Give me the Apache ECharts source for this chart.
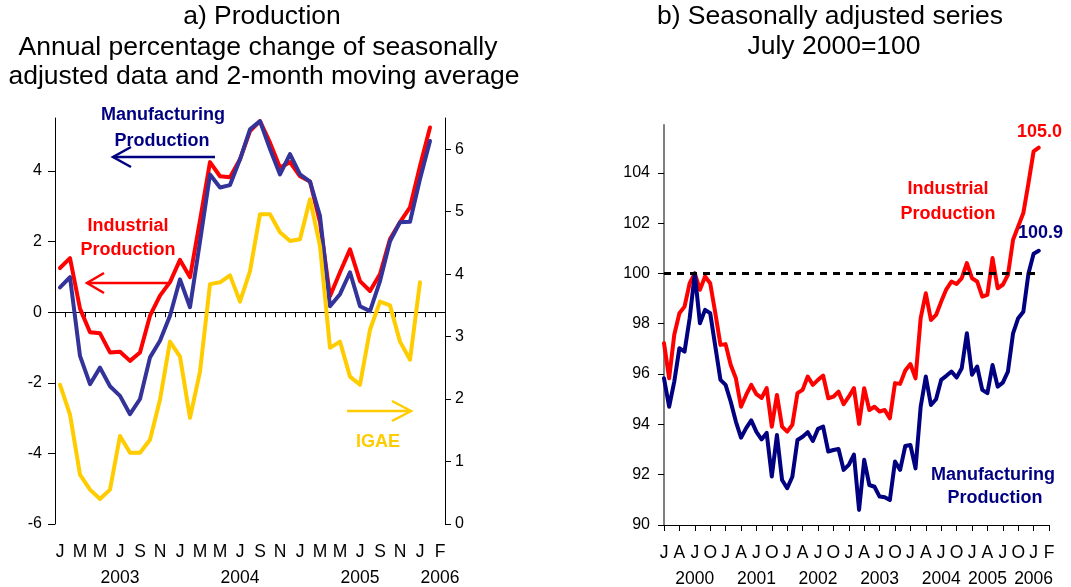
<!DOCTYPE html>
<html><head><meta charset="utf-8">
<script src="https://cdn.jsdelivr.net/npm/echarts@6/dist/echarts.min.js"></script>
<style>html,body{margin:0;padding:0;background:#fff;}#c{width:1071px;height:587px;}</style>
</head><body><div id="c"></div>
<script>
const FONT = '"Liberation Sans", Arial, Helvetica, sans-serif';
const monthNames = ['Jan','Feb','Mar','Apr','May','Jun','Jul','Aug','Sep','Oct','Nov','Dec'];

// ---------- Panel a) ----------
// categories Jan 2003 .. Mar 2006
const leftCategories = [];
for (let y = 2003; y <= 2006; y++) for (let m = 0; m < 12; m++) {
  if (y === 2006 && m > 2) break;
  leftCategories.push(monthNames[m] + ' ' + y);
}
const leftTickLabels = ['J','M','M','J','S','N','J','M','M','J','S','N','J','M','M','J','S','N','J','F'];
const leftYearLabels = ['2003','2004','2005','2006'];
const leftYearIdx = [6, 18, 30, 38];
const leftAxisTicks = [-6,-4,-2,0,2,4];
const rightAxisTicks = [0,1,2,3,4,5,6];

const industrialChange = [
  1.25,1.53,0.1,-0.57,-0.6,-1.14,-1.12,-1.38,-1.14,-0.1,0.47,0.85,
  1.48,0.99,2.6,4.25,3.85,3.82,4.33,5.13,5.41,4.8,4.1,4.25,
  3.85,3.7,2.55,0.45,1.13,1.78,0.88,0.6,1.08,2.07,2.55,2.97,
  4.14,5.23
];
const manufacturingChange = [
  0.7,0.99,-1.24,-2.04,-1.57,-2.1,-2.37,-2.89,-2.46,-1.28,-0.81,-0.1,
  0.93,0.14,2.0,3.9,3.53,3.6,4.33,5.18,5.41,4.62,3.9,4.48,
  3.9,3.7,2.72,0.17,0.51,1.13,0.17,0.03,0.88,2.01,2.55,2.56,
  3.77,4.85
];
const igaeChange = [
  2.23,1.75,0.79,0.55,0.4,0.55,1.41,1.14,1.14,1.35,1.99,2.92,
  2.68,1.7,2.44,3.84,3.87,3.98,3.56,4.05,4.96,4.96,4.67,4.53,
  4.56,5.2,4.45,2.82,2.92,2.36,2.23,3.11,3.56,3.5,2.92,2.63,
  3.87,null
];

// ---------- Panel b) ----------
// categories Jan 2000 .. Apr 2006
const rightCategories = [];
for (let y = 2000; y <= 2006; y++) for (let m = 0; m < 12; m++) {
  if (y === 2006 && m > 3) break;
  rightCategories.push(monthNames[m] + ' ' + y);
}
const rightTickLabels = ['J','A','J','O','J','A','J','O','J','A','J','O','J','A','J','O','J','A','J','O','J','A','J','O','J','F'];
const rightYearLabels = ['2000','2001','2002','2003','2004','2005','2006'];
const rightYearIdx = [6, 18, 30, 42, 54, 63, 72];
const indexTicks = [90,92,94,96,98,100,102,104];
const baseLevel = 100;

const industrialIndex = [
  97.23,95.83,97.56,98.42,98.68,99.61,100.0,99.35,99.88,99.61,98.42,97.16,
  97.19,96.36,95.83,94.7,95.17,95.57,95.2,95.05,95.44,93.91,95.17,93.91,
  93.71,93.98,95.24,95.37,95.9,95.57,95.77,95.94,95.04,95.1,95.3,94.8,
  95.1,95.44,94.02,95.44,94.57,94.7,94.51,94.57,94.24,95.64,95.61,96.14,
  96.4,95.83,98.22,99.21,98.15,98.35,98.88,99.37,99.68,99.58,99.81,100.41,
  99.81,99.68,99.08,99.15,100.61,99.41,99.55,99.94,101.34,101.87,102.4,103.59,
  104.85,105.0
];
const manufacturingIndex = [
  95.83,94.7,95.7,97.03,96.89,98.22,100.0,98.02,98.55,98.42,97.09,95.77,
  95.57,94.9,94.11,93.47,93.85,94.16,93.7,93.4,93.66,91.93,93.58,91.79,
  91.46,91.92,93.38,93.51,93.69,93.34,93.82,93.91,92.92,92.98,93.02,92.19,
  92.39,92.8,90.6,92.59,91.59,91.52,91.13,91.1,90.99,92.52,92.19,93.14,
  93.18,92.25,94.7,95.9,94.77,95.0,95.77,95.93,96.1,95.86,96.23,97.62,
  95.97,96.3,95.37,95.24,96.36,95.5,95.66,96.1,97.62,98.22,98.48,100.0,
  100.78,100.9
];

const RED = '#ff0000', BLUE_A = '#333399', NAVY = '#000080', YEL = '#ffcc00';

function leftLabel(v, i) {
  if (i % 2) return '';
  let s = leftTickLabels[i / 2] || '';
  const k = leftYearIdx.indexOf(i);
  if (k >= 0) s += '\n' + leftYearLabels[k];
  return s;
}
function rightLabel(v, i) {
  if (i % 3) return '';
  let s = rightTickLabels[i / 3] || '';
  const k = rightYearIdx.indexOf(i);
  if (k >= 0) s += '\n' + rightYearLabels[k];
  return s;
}

const chart = echarts.init(document.getElementById('c'), null, {renderer: 'canvas'});
const lbl = {color: '#000', fontSize: 16, fontFamily: FONT};
const xlbl = {color: '#000', fontSize: 17.5, fontFamily: FONT};
const blackLine = {lineStyle: {color: '#000', width: 1}};

function txt(text, x, y, color, size, weight, align) {
  return {type: 'text', x: x, y: y, silent: true, z: 100,
    style: {text: text, fill: color, font: (weight || 'normal') + ' ' + size + 'px ' + FONT,
      textAlign: align || 'center', textVerticalAlign: 'middle'}};
}
function arrow(x1, x2, y, color, head) {
  const dir = x2 > x1 ? -1 : 1;
  return [
    {type: 'line', silent: true, z: 100, shape: {x1: x1, y1: y, x2: x2, y2: y},
      style: {stroke: color, lineWidth: 2.5}},
    {type: 'polyline', silent: true, z: 100,
      shape: {points: [[x2 + dir * head, y - 10], [x2, y], [x2 + dir * head, y + 10]]},
      style: {stroke: color, lineWidth: 2.5, fill: null}}
  ];
}

const option = {
  animation: false,
  backgroundColor: '#fff',
  textStyle: {fontFamily: FONT},
  grid: [
    {left: 55, top: 118, width: 390, height: 406, containLabel: false, outerBoundsMode: 'none'},
    {left: 664, top: 125, width: 385, height: 400, containLabel: false, outerBoundsMode: 'none'}
  ],
  xAxis: [
    {type: 'category', gridIndex: 0, data: leftCategories, boundaryGap: true, position: 'bottom',
     axisLine: {show: true, onZero: true, onZeroAxisIndex: 0, lineStyle: {color: '#000', width: 1}},
     axisTick: {show: true, interval: 0, length: 5, lineStyle: {color: '#000'}},
     axisLabel: {show: false}, splitLine: {show: false}},
    {type: 'category', gridIndex: 0, data: leftCategories, boundaryGap: true, position: 'bottom',
     axisLine: {show: false, onZero: false}, axisTick: {show: false},
     axisLabel: Object.assign({interval: 0, margin: 15, lineHeight: 26, formatter: leftLabel}, xlbl),
     splitLine: {show: false}},
    {type: 'category', gridIndex: 1, data: rightCategories, boundaryGap: false, position: 'bottom',
     axisLine: {show: true, onZero: false, lineStyle: {color: '#000', width: 1}},
     axisTick: {show: true, interval: 2, length: 6, lineStyle: {color: '#000'}},
     axisLabel: Object.assign({interval: 0, margin: 15, lineHeight: 26, formatter: rightLabel}, xlbl),
     splitLine: {show: false}}
  ],
  yAxis: [
    {type: 'value', gridIndex: 0, min: -6, max: 5.5, position: 'left',
     axisLine: Object.assign({show: true}, blackLine), splitLine: {show: false},
     axisTick: {show: true, length: 7, customValues: leftAxisTicks, lineStyle: {color: '#000'}},
     axisLabel: Object.assign({customValues: leftAxisTicks, margin: 13}, lbl)},
    {type: 'value', gridIndex: 0, min: 0, max: 6.5, position: 'right',
     axisLine: Object.assign({show: true}, blackLine), splitLine: {show: false},
     axisTick: {show: true, length: 6, customValues: rightAxisTicks, lineStyle: {color: '#000'}},
     axisLabel: Object.assign({customValues: rightAxisTicks, margin: 10}, lbl)},
    {type: 'value', gridIndex: 1, min: 90, max: 105.9, position: 'left',
     axisLine: {show: true, onZero: false, lineStyle: {color: '#808080', width: 2}}, splitLine: {show: false},
     axisTick: {show: true, length: 6, customValues: indexTicks, lineStyle: {color: '#000'}},
     axisLabel: Object.assign({customValues: indexTicks, margin: 14}, lbl)}
  ],
  series: [
    {name: 'Industrial Production', type: 'line', xAxisIndex: 0, yAxisIndex: 0, data: industrialChange,
     showSymbol: false, lineStyle: {color: RED, width: 4, join: 'round', cap: 'round'}, itemStyle: {color: RED}},
    {name: 'Manufacturing Production', type: 'line', xAxisIndex: 0, yAxisIndex: 0, data: manufacturingChange,
     showSymbol: false, lineStyle: {color: BLUE_A, width: 4, join: 'round', cap: 'round'}, itemStyle: {color: BLUE_A}},
    {name: 'IGAE', type: 'line', xAxisIndex: 0, yAxisIndex: 1, data: igaeChange,
     showSymbol: false, lineStyle: {color: YEL, width: 4, join: 'round', cap: 'round'}, itemStyle: {color: YEL}},
    {name: 'Industrial Production (index)', type: 'line', xAxisIndex: 2, yAxisIndex: 2, data: industrialIndex,
     showSymbol: false, lineStyle: {color: RED, width: 4, join: 'round', cap: 'round'}, itemStyle: {color: RED},
     markLine: {silent: true, symbol: 'none', label: {show: false},
       lineStyle: {color: '#000', width: 3, type: [7, 6]},
       data: [[{coord: [0, baseLevel]}, {coord: [industrialIndex.length - 1, baseLevel]}]]}},
    {name: 'Manufacturing Production (index)', type: 'line', xAxisIndex: 2, yAxisIndex: 2, data: manufacturingIndex,
     showSymbol: false, lineStyle: {color: NAVY, width: 4, join: 'round', cap: 'round'}, itemStyle: {color: NAVY}}
  ],
  graphic: [
    txt('a) Production', 262, 17, '#000', 26.5),
    txt('Annual percentage change of seasonally', 258, 48, '#000', 26.5),
    txt('adjusted data and 2-month moving average', 264, 77, '#000', 26.5),
    txt('b) Seasonally adjusted series', 830, 17, '#000', 26.5),
    txt('July 2000=100', 834, 47, '#000', 26.5),
    txt('Manufacturing', 163, 115, NAVY, 18, 'bold'),
    txt('Production', 162, 141, NAVY, 18, 'bold'),
    txt('Industrial', 128, 226, RED, 18, 'bold'),
    txt('Production', 128, 250, RED, 18, 'bold'),
    txt('IGAE', 378, 442, YEL, 18, 'bold'),
    txt('Industrial', 948, 189, RED, 18, 'bold'),
    txt('Production', 948, 214, RED, 18, 'bold'),
    txt('Manufacturing', 993, 475, NAVY, 18, 'bold'),
    txt('Production', 995, 498, NAVY, 18, 'bold'),
    txt(industrialIndex[industrialIndex.length - 1].toFixed(1), 1017, 132, RED, 18, 'bold', 'left'),
    txt(manufacturingIndex[manufacturingIndex.length - 1].toFixed(1), 1018, 233, NAVY, 18, 'bold', 'left')
  ].concat(arrow(215, 113, 157, NAVY, 18))
   .concat(arrow(168, 87, 283, RED, 17))
   .concat(arrow(347, 411, 411, YEL, 19))
};
chart.setOption(option);
</script></body></html>
